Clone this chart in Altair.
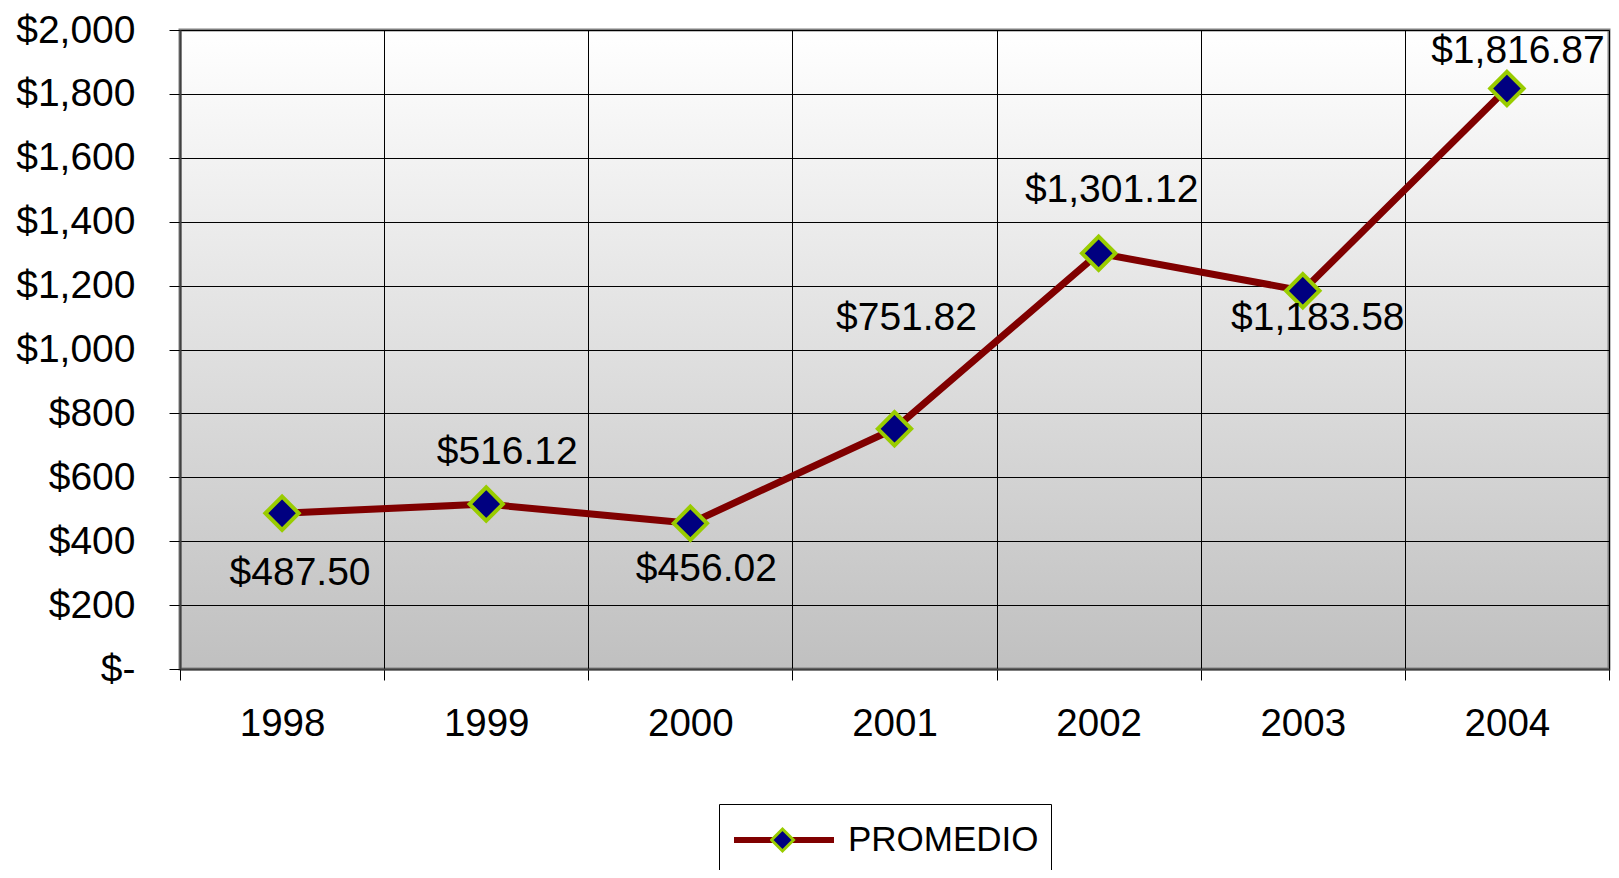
import altair as alt
import pandas as pd

years = ["1998", "1999", "2000", "2001", "2002", "2003", "2004"]
promedio = [487.50, 516.12, 456.02, 751.82, 1301.12, 1183.58, 1816.87]
series_name = "PROMEDIO"
y_ticks = [0, 200, 400, 600, 800, 1000, 1200, 1400, 1600, 1800, 2000]

df = pd.DataFrame({
    "year": years,
    "value": promedio,
    "series": [series_name] * len(years),
    "series_marker": [series_name] * len(years),
})

W, H = 1429, 639
FONT = "Liberation Sans"

x_enc = alt.X(
    "year:O",
    sort=years,
    scale=alt.Scale(type="band", paddingInner=0, paddingOuter=0),
    axis=alt.Axis(
        title=None, labelAngle=0, tickBand="extent", grid=True,
        tickSize=11, labelFontSize=38.5, labelPadding=25,
    ),
)
y_enc = alt.Y(
    "value:Q",
    scale=alt.Scale(domain=[0, 2000], nice=False),
    axis=alt.Axis(
        title=None, values=y_ticks, grid=True, tickSize=11,
        labelFontSize=39, labelPadding=34,
        labelExpr="datum.value == 0 ? '$-' : '$' + format(datum.value, ',')",
    ),
)

base = alt.Chart(df)

line = base.mark_line(strokeWidth=7, strokeCap="round", strokeJoin="round").encode(
    x=x_enc, y=y_enc,
    color=alt.Color(
        "series:N",
        scale=alt.Scale(range=["#800000"]),
        legend=alt.Legend(
            title=None, orient="none", legendX=539, legendY=774, padding=12,
            strokeColor="black", clipHeight=48, symbolType="stroke",
            symbolSize=10000, symbolStrokeWidth=6, labelFontSize=35,
            labelFont=FONT, labelColor="black", labelOffset=11, labelLimit=400,
        ),
    ),
)

points = base.mark_point(
    shape="diamond", filled=True, size=1110, stroke="#99cc00", strokeWidth=4, opacity=1
).encode(
    x=x_enc, y=y_enc,
    fill=alt.Fill(
        "series_marker:N",
        scale=alt.Scale(range=["#000080"]),
        legend=alt.Legend(
            title=None, orient="none", legendX=590, legendY=786, padding=0,
            clipHeight=48, symbolType="diamond", symbolSize=484,
            symbolStrokeColor="#99cc00", symbolStrokeWidth=3,
            labelFontSize=1, labelOpacity=0,
        ),
    ),
)

offsets = {
    "1998": (18, 60),
    "1999": (21, -52),
    "2000": (16, 46),
    "2001": (12, -111),
    "2002": (13, -63),
    "2003": (15, 27),
    "2004": (11, -38),
}

labels = []
for yr in years:
    dx, dy = offsets[yr]
    labels.append(
        base.transform_filter(alt.datum.year == yr)
        .transform_calculate(label="'$' + format(datum.value, ',.2f')")
        .mark_text(dx=dx, dy=dy, fontSize=39, font=FONT, color="black", baseline="middle")
        .encode(x=x_enc, y=y_enc, text="label:N")
    )

gradient_expr = (
    "{gradient: 'linear', x1: 0, y1: 0, x2: 0, y2: 1, "
    "stops: [{offset: 0, color: '#ffffff'}, {offset: 1, color: '#c0c0c0'}]}"
)

chart = (
    alt.layer(line, points, *labels)
    .properties(
        width=W, height=H,
        autosize=alt.AutoSizeParams(type="none"),
        padding={"left": 172, "top": 22, "right": 2, "bottom": 201},
    )
    .configure_view(fill=alt.ExprRef(expr=gradient_expr), stroke="#808080", strokeWidth=3)
    .configure_axis(
        labelFont=FONT, labelColor="black", domainColor="#404040", domainWidth=2,
        tickColor="black", gridColor="black", gridOpacity=1, gridWidth=1,
    )
)

chart.save("out.html", embed_options={"renderer": "svg", "actions": False})
